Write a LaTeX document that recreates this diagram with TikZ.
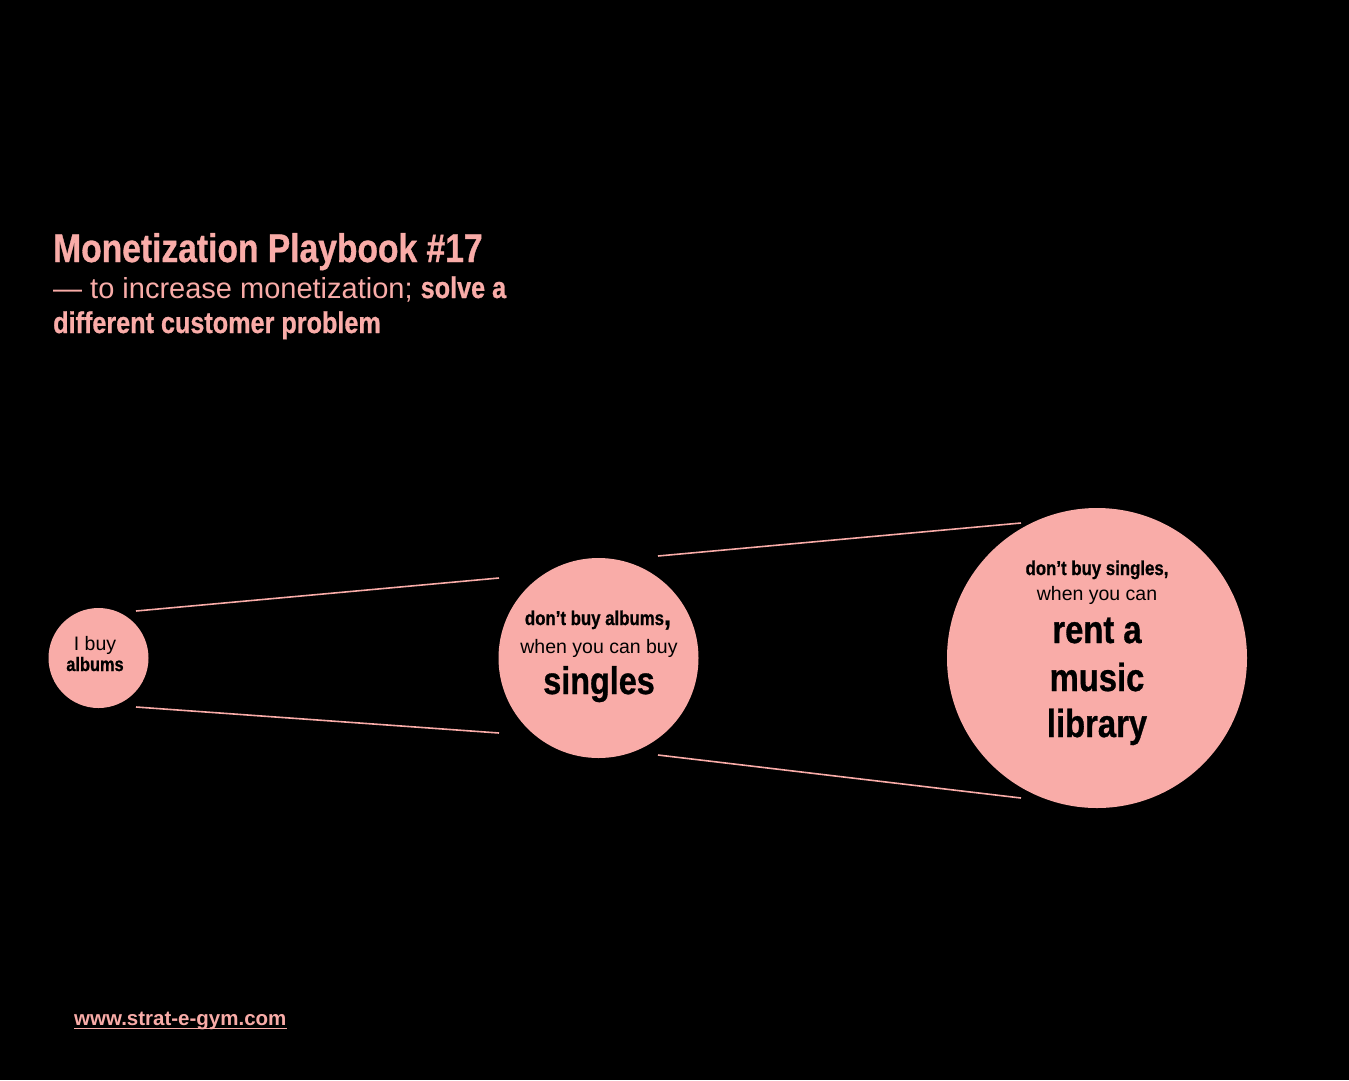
\documentclass[tikz,border=0pt]{standalone}
\usepackage{fontspec}
\setmainfont{Liberation Sans}
\newfontfamily\condfont[FakeStretch=0.84,FakeBold=0.8]{Liberation Sans Bold}
\usetikzlibrary{positioning}
\definecolor{blush}{HTML}{F9ACA8}

\begin{document}
\begin{tikzpicture}[x=1pt,y=-1pt,
  bubble/.style={circle, fill=blush, draw=none, inner sep=0pt},
  link/.style={blush, line width=1.6pt},
  txt/.style={inner sep=0pt, anchor=base},
  heading/.style={txt, anchor=base west, text=blush}]

  % background
  \useasboundingbox (0,0) rectangle (1349,1080);
  \fill[black] (0,0) rectangle (1349,1080);

  % title block
  \node[heading, font=\condfont\fontsize{40}{44}\selectfont] (title) at (53,262)
    {Monetization Playbook \#17};
  \node[heading, font=\fontsize{29}{33}\selectfont] (sub1) at (53,298)
    {\char"2014\ to increase monetization; {\condfont\fontsize{30}{33}\selectfont solve a}};
  \node[heading, font=\condfont\fontsize{30}{33}\selectfont] (sub2) at (53,333)
    {different customer problem};

  % bubbles
  \node[bubble, minimum size=100pt] (albums)  at (98.5,658) {};
  \node[bubble, minimum size=200pt] (singles) at (598.5,658) {};
  \node[bubble, minimum size=300pt] (library) at (1097,658) {};

  % connector ends
  \coordinate (a1) at (136,611);  \coordinate (a2) at (136,707);
  \coordinate (s1) at (499,578);  \coordinate (s2) at (499,733);
  \coordinate (s3) at (658,556);  \coordinate (s4) at (658,755);
  \coordinate (l1) at (1021,523); \coordinate (l2) at (1021,798);
  \draw[link] (a1) -- (s1);
  \draw[link] (a2) -- (s2);
  \draw[link] (s3) -- (l1);
  \draw[link] (s4) -- (l2);

  % small bubble text
  \node[txt, font=\fontsize{19.5}{22}\selectfont] (albumsA) at (95,650) {I buy};
  \node[txt, font=\condfont\fontsize{19.5}{22}\selectfont] (albumsB) at (95,671) {albums};

  % middle bubble text
  \node[txt, font=\condfont\fontsize{20}{22}\selectfont] (singlesA) at (598,625)
    {don’t buy albums{\fontsize{30}{30}\selectfont,}};
  \node[txt, font=\fontsize{19.5}{22}\selectfont] (singlesB) at (599,653) {when you can buy};
  \node[txt, font=\condfont\fontsize{38.5}{42}\selectfont] (singlesC) at (599,694) {singles};

  % large bubble text
  \node[txt, font=\condfont\fontsize{20}{22}\selectfont] (libraryA) at (1097,575) {don’t buy singles,};
  \node[txt, font=\fontsize{19.5}{22}\selectfont] (libraryB) at (1097,600) {when you can};
  \node[txt, font=\condfont\fontsize{39}{42}\selectfont] (libraryC) at (1097,643) {rent a};
  \node[txt, font=\condfont\fontsize{39}{42}\selectfont] (libraryD) at (1097,691) {music};
  \node[txt, font=\condfont\fontsize{39}{42}\selectfont] (libraryE) at (1097,737) {library};

  % footer link
  \node[heading, font=\bfseries\fontsize{20.5}{23}\selectfont] (url) at (74,1025) {www.strat-e-gym.com};
  \draw[blush, line width=1.5pt] ([yshift=-3.5pt]url.base west) -- ([yshift=-3.5pt]url.base east);
\end{tikzpicture}
\end{document}
